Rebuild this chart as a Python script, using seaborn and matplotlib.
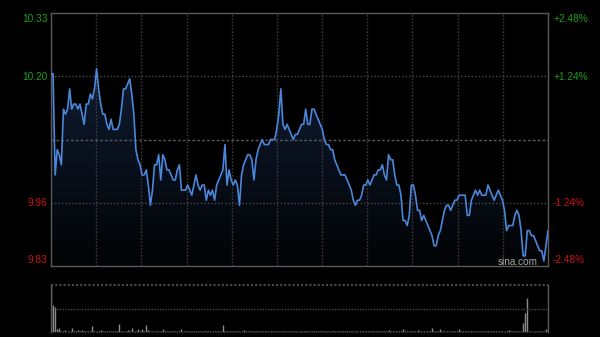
import numpy as np
import matplotlib
matplotlib.use("Agg")
import matplotlib.pyplot as plt
import seaborn as sns
from matplotlib.colors import LinearSegmentedColormap

# ---- data ----
prices = [
    10.21, 10.21, 10.01, 10.06, 10.05, 10.03, 10.14, 10.13, 10.14, 10.18,
    10.14, 10.15, 10.15, 10.14, 10.15, 10.13, 10.11, 10.15, 10.15, 10.17,
    10.16, 10.18, 10.22, 10.18, 10.15, 10.13, 10.13, 10.11, 10.10, 10.12,
    10.10, 10.10, 10.10, 10.11, 10.14, 10.18, 10.18, 10.19, 10.20, 10.17,
    10.13, 10.06, 10.04, 10.03, 10.01, 10.01, 10.02, 9.99, 9.95, 9.98,
    10.03, 10.03, 10.05, 10.00, 10.05, 10.04, 10.02, 10.02, 10.01, 10.00,
    10.00, 10.02, 10.03, 9.98, 9.98, 9.98, 9.99, 9.98, 9.97, 9.99,
    10.01, 9.99, 9.98, 9.99, 9.99, 9.96, 9.98, 9.97, 9.98, 9.96,
    9.99, 10.00, 10.01, 10.02, 10.07, 9.99, 10.02, 10.00, 9.99, 10.00,
    9.99, 9.95, 10.01, 10.03, 10.04, 10.05, 10.05, 10.04, 10.00, 10.04,
    10.06, 10.07, 10.08, 10.07, 10.07, 10.07, 10.08, 10.08, 10.08, 10.10,
    10.13, 10.18, 10.11, 10.10, 10.11, 10.10, 10.09, 10.08, 10.09, 10.09,
    10.10, 10.11, 10.11, 10.14, 10.11, 10.11, 10.14, 10.14, 10.13, 10.12,
    10.11, 10.10, 10.08, 10.07, 10.07, 10.06, 10.06, 10.04, 10.03, 10.02,
    10.01, 10.01, 10.01, 10.00, 9.99, 9.98, 9.96, 9.95, 9.96, 9.96,
    9.97, 9.99, 9.99, 10.00, 9.99, 10.00, 10.01, 10.01, 10.02, 10.02,
    10.03, 10.01, 10.00, 10.05, 10.04, 10.04, 10.01, 9.99, 9.99, 9.97,
    9.92, 9.92, 9.91, 9.93, 9.99, 9.99, 9.97, 9.94, 9.94, 9.92,
    9.93, 9.92, 9.91, 9.90, 9.89, 9.87, 9.87, 9.89, 9.90, 9.92,
    9.94, 9.95, 9.95, 9.94, 9.95, 9.96, 9.96, 9.97, 9.97, 9.97,
    9.97, 9.93, 9.93, 9.96, 9.97, 9.98, 9.97, 9.98, 9.97, 9.97,
    9.97, 9.99, 9.98, 9.97, 9.96, 9.97, 9.98, 9.97, 9.96, 9.94,
    9.90, 9.91, 9.91, 9.91, 9.93, 9.94, 9.93, 9.90, 9.85, 9.85,
    9.90, 9.90, 9.89, 9.89, 9.88, 9.87, 9.86, 9.86, 9.84, 9.87, 9.90,
]

volumes = [
    47000, 27000, 25000, 2600, 3700, 1500, 1200, 1800, 1100, 1400,
    3700, 1300, 1000, 1600, 1200, 2000, 1100, 900, 1300, 1500,
    6000, 1200, 1400, 1000, 1700, 1100, 900, 1300, 1200, 1000,
    1500, 1100, 1300, 8000, 1200, 1000, 1400, 1600, 1100, 3700,
    1300, 1200, 2700, 1500, 2700, 1400, 7000, 1800, 1500, 1200,
    1100, 1300, 1000, 1400, 3000, 1200, 1100, 900, 1000, 1200,
    1300, 1000, 1100, 3000, 1200, 900, 1000, 1100, 800, 1000,
    1200, 900, 1100, 1000, 800, 1300, 1000, 900, 1100, 1000,
    1200, 1400, 1100, 7500, 1300, 1000, 1100, 900, 1200, 1000,
    1300, 1100, 1000, 2000, 1200, 900, 1000, 1100, 800, 1200,
    1000, 900, 1100, 1300, 1000, 800, 900, 1000, 1200, 1100,
    1500, 1000, 900, 1100, 1200, 1000, 800, 900, 1000, 1100,
    1000, 900, 800, 1000, 1100, 1200, 1000, 900, 1100, 1000,
    1200, 1000, 900, 1100, 1000, 800, 1200, 1000, 1100, 900,
    1000, 1100, 900, 1000, 1200, 1000, 1100, 900, 1000, 1200,
    1100, 1000, 900, 1000, 1100, 1300, 1000, 900, 1100, 1000,
    1200, 1000, 1100, 2000, 1000, 900, 1100, 1000, 1200, 1300,
    3000, 1200, 1100, 1000, 1300, 1100, 1000, 2000, 1200, 1100,
    1000, 1100, 1200, 1300, 3700, 1200, 1100, 1300, 2700, 1200,
    1100, 1000, 1200, 1100, 1000, 1300, 1100, 2700, 1200, 1000,
    1100, 1300, 1200, 1000, 1100, 1000, 1200, 1100, 900, 1000,
    1100, 1000, 1200, 1000, 1100, 900, 1000, 1200, 1100, 1000,
    1300, 2000, 1200, 1100, 1000, 1300, 1100, 1200, 9000, 19000,
    34000, 1200, 1100, 1000, 1300, 1100, 1200, 1000, 1300, 2700, 2700,
]

prev_close = 10.08
price_top, price_bottom = 10.33, 9.83
grid_prices = [10.205, 9.955]
left_labels = ["10.33", "10.20", "9.96", "9.83"]
right_labels = ["+2.48%", "+1.24%", "-1.24%", "-2.48%"]
label_colors = ["#18a018", "#18a018", "#cc1111", "#cc1111"]
label_ypix = [19, 77, 203, 260]

assert len(prices) == 241 and len(volumes) == 241
minutes = np.arange(len(prices))

# ---- figure ----
sns.set_style("dark")
plt.rcParams["font.family"] = ["Liberation Sans", "DejaVu Sans"]

W, H = 600, 337
fig = plt.figure(figsize=(W / 100, H / 100), dpi=100, facecolor="black")
ax = fig.add_axes([51 / W, 1 - 266 / H, 497 / W, 253 / H])
axv = fig.add_axes([51 / W, 1 - 332 / H, 497 / W, 47 / H])

for a in (ax, axv):
    a.set_facecolor("black")
    a.set_xticks([])
    a.set_yticks([])
    a.grid(False)

# gradient fill under the price line
coll = ax.fill_between(minutes, prices, price_bottom, color="none", lw=0)
cmap = LinearSegmentedColormap.from_list("fill", ["#020304", "#0a1322", "#15233b"])
grad = np.linspace(0, 1, 256).reshape(-1, 1)
im = ax.imshow(grad, extent=[0, 240, price_bottom, price_top], aspect="auto",
               cmap=cmap, origin="lower", zorder=1)
im.set_clip_path(coll.get_paths()[0], transform=ax.transData)

# grid
grid_col = "#3c3c3c"
for k in range(1, 11):
    ax.axvline(k * 240 / 11, color=grid_col, lw=1, ls=(0, (1.2, 1.2)), zorder=2)
for gp in grid_prices:
    ax.axhline(gp, color="#4a4a4a", lw=1, ls=(0, (1, 1.5)), zorder=2)
ax.axhline(prev_close, color="#5a5a5a", lw=1, ls=(0, (2, 1.5)), zorder=2)

sns.lineplot(x=minutes, y=prices, ax=ax, color="#4b86d9", lw=1.2, zorder=3,
             legend=False)

ax.set_xlim(0, 240)
ax.set_ylim(price_bottom, price_top)
ax.set_xlabel("")
ax.set_ylabel("")
for s in ax.spines.values():
    s.set_visible(True)
    s.set_color("#5a5a5a")
    s.set_linewidth(1)

# volume panel
axv.vlines(minutes, 0, volumes, color="#8c8c8c", lw=1)
vmax = max(volumes)
axv.set_xlim(0, 240)
axv.set_ylim(0, vmax)
axv.axhline(vmax, color="#4a4a4a", lw=1.5, ls=(0, (1, 1)), clip_on=False)
axv.axhline(vmax / 2, color="#4a4a4a", lw=1, ls=(0, (1, 1)))
axv.axhline(0, color="#3a3a3a", lw=1, ls=(0, (1, 1)), clip_on=False)
for side in ("top", "bottom"):
    axv.spines[side].set_visible(False)
for side in ("left", "right"):
    axv.spines[side].set_visible(True)
    axv.spines[side].set_color("#5a5a5a")
    axv.spines[side].set_linewidth(1)

# labels
for lab, rlab, col, yp in zip(left_labels, right_labels, label_colors, label_ypix):
    fig.text(47.5 / W, 1 - yp / H, lab, color=col, fontsize=7.3,
             ha="right", va="center")
    fig.text(553 / W, 1 - yp / H, rlab, color=col, fontsize=7.3,
             ha="left", va="center")

fig.text(517.5 / W, 1 - 262 / H, "sina.com", color="#a8a8a8", fontsize=7.2,
         ha="center", va="center")

fig.savefig("out.png", dpi=100, facecolor="black")
